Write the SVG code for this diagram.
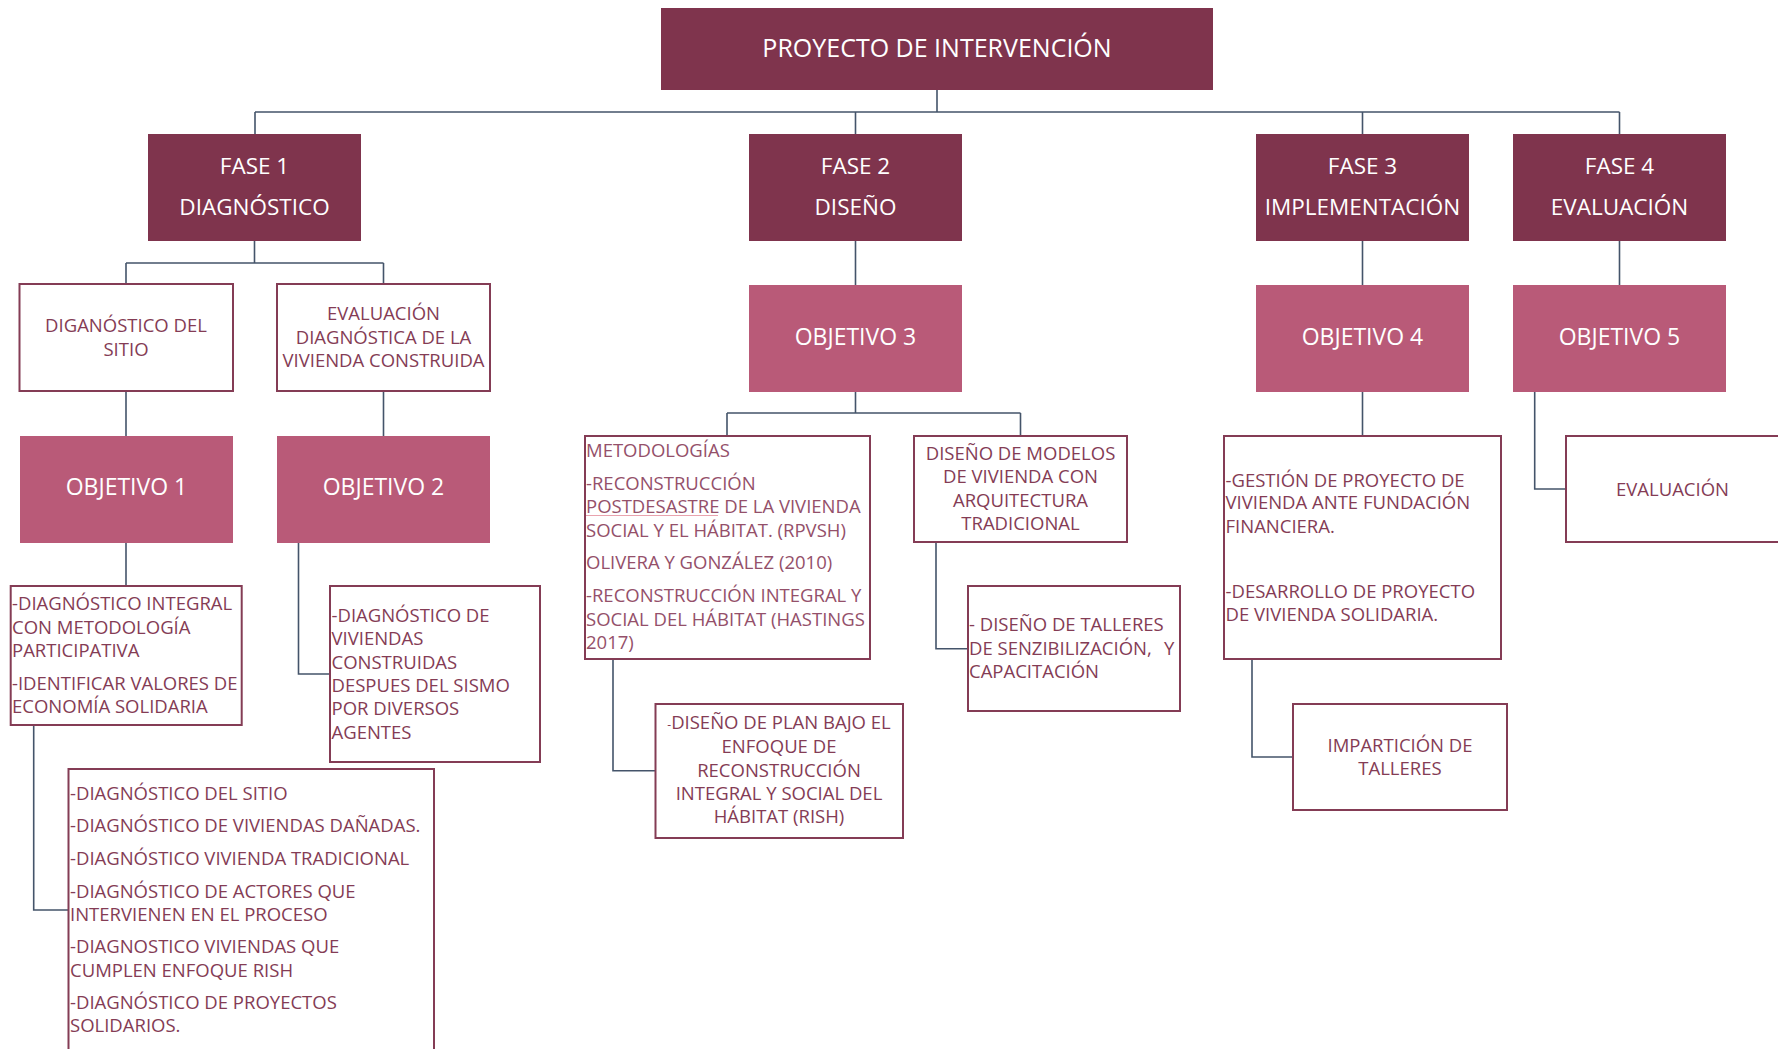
<svg xmlns="http://www.w3.org/2000/svg" width="1778" height="1049" viewBox="0 0 1778 1049">
<style>
text{font-family:"Open Sans","Liberation Sans",sans-serif;}
.dark{fill:#7F344D;}
.pink{fill:#B95A78;}
.box{fill:#FFFFFF;stroke:#843C55;stroke-width:2;}
.wt{fill:#FFFFFF;text-anchor:middle;}
.t1{font-size:25px;}
.tf{font-size:22.5px;}
.to{font-size:23px;}
.st{fill:#843C55;font-size:18.5px;}
.lt{fill:#94506A;}
.mid{text-anchor:middle;}
.conn{fill:none;stroke:#44546A;stroke-width:1.6;}
</style>
<rect width="1778" height="1049" fill="#FFFFFF"/>
<g id="connectors">
<path class="conn" d="M937 90V112M255 112H1619.5M255 112V134M855.5 112V134M1362.5 112V134M1619.5 112V134"/>
<path class="conn" d="M254.5 241V263M126 263H383.5M126 263V284M383.5 263V284"/>
<path class="conn" d="M126 391V436M383.5 391V436"/>
<path class="conn" d="M855.5 241V285M1362.5 241V285M1619.5 241V285"/>
<path class="conn" d="M126 543V586"/>
<path class="conn" d="M298.5 543V674H330"/>
<path class="conn" d="M33.7 725V910H68.5"/>
<path class="conn" d="M855.5 392V413M727 413H1020.5M727 413V436M1020.5 413V436"/>
<path class="conn" d="M613 659V770.7H655.5"/>
<path class="conn" d="M936 542V648.7H968"/>
<path class="conn" d="M1362.5 392V436"/>
<path class="conn" d="M1252 659V757H1293"/>
<path class="conn" d="M1534.7 392V489H1566"/>
</g>
<g id="root">
<rect class="dark" x="661" y="8" width="552" height="82"/>
<text class="wt t1" x="937" y="57">PROYECTO DE INTERVENCIÓN</text>
</g>
<g id="fase1">
<rect class="dark" x="148" y="134" width="213" height="107"/>
<text class="wt tf" x="254.5" y="174">FASE 1</text>
<text class="wt tf" x="254.5" y="214.5">DIAGNÓSTICO</text>
</g>
<g id="fase2">
<rect class="dark" x="749" y="134" width="213" height="107"/>
<text class="wt tf" x="855.5" y="174">FASE 2</text>
<text class="wt tf" x="855.5" y="214.5">DISEÑO</text>
</g>
<g id="fase3">
<rect class="dark" x="1256" y="134" width="213" height="107"/>
<text class="wt tf" x="1362.5" y="174">FASE 3</text>
<text class="wt tf" x="1362.5" y="214.5">IMPLEMENTACIÓN</text>
</g>
<g id="fase4">
<rect class="dark" x="1513" y="134" width="213" height="107"/>
<text class="wt tf" x="1619.5" y="174">FASE 4</text>
<text class="wt tf" x="1619.5" y="214.5">EVALUACIÓN</text>
</g>
<g id="diag-sitio">
<rect class="box" x="19.5" y="284" width="213.5" height="107"/>
<text class="st mid" x="126" y="331.6">DIGANÓSTICO DEL</text>
<text class="st mid" x="126" y="356">SITIO</text>
</g>
<g id="eval-diag">
<rect class="box" x="277" y="284" width="213" height="107"/>
<text class="st mid" x="383.5" y="320">EVALUACIÓN</text>
<text class="st mid" x="383.5" y="344">DIAGNÓSTICA DE LA</text>
<text class="st mid" x="383.5" y="367.3">VIVIENDA CONSTRUIDA</text>
</g>
<g id="obj1">
<rect class="pink" x="20" y="436" width="213" height="107"/>
<text class="wt to" x="126.5" y="495">OBJETIVO 1</text>
</g>
<g id="obj2">
<rect class="pink" x="277" y="436" width="213" height="107"/>
<text class="wt to" x="383.5" y="495">OBJETIVO 2</text>
</g>
<g id="obj3">
<rect class="pink" x="749" y="285" width="213" height="107"/>
<text class="wt to" x="855.5" y="345">OBJETIVO 3</text>
</g>
<g id="obj4">
<rect class="pink" x="1256" y="285" width="213" height="107"/>
<text class="wt to" x="1362.5" y="345">OBJETIVO 4</text>
</g>
<g id="obj5">
<rect class="pink" x="1513" y="285" width="213" height="107"/>
<text class="wt to" x="1619.5" y="345">OBJETIVO 5</text>
</g>
<g id="diag-integral">
<rect class="box" x="10.7" y="586" width="231" height="139"/>
<text class="st" x="12" y="610">-DIAGNÓSTICO INTEGRAL</text>
<text class="st" x="12" y="634">CON METODOLOGÍA</text>
<text class="st" x="12" y="657.2">PARTICIPATIVA</text>
<text class="st" x="12" y="690">-IDENTIFICAR VALORES DE</text>
<text class="st" x="12" y="713">ECONOMÍA SOLIDARIA</text>
</g>
<g id="diag-viviendas">
<rect class="box" x="330" y="586" width="210" height="176"/>
<text class="st" x="331.5" y="622">-DIAGNÓSTICO DE</text>
<text class="st" x="331.5" y="645.2">VIVIENDAS</text>
<text class="st" x="331.5" y="668.5">CONSTRUIDAS</text>
<text class="st" x="331.5" y="691.7">DESPUES DEL SISMO</text>
<text class="st" x="331.5" y="715">POR DIVERSOS</text>
<text class="st" x="331.5" y="738.7">AGENTES</text>
</g>
<g id="diag-lista">
<rect class="box" x="68.5" y="769" width="365.5" height="300"/>
<text class="st" x="70" y="799.6">-DIAGNÓSTICO DEL SITIO</text>
<text class="st" x="70" y="831.7">-DIAGNÓSTICO DE VIVIENDAS DAÑADAS.</text>
<text class="st" x="70" y="864.6">-DIAGNÓSTICO VIVIENDA TRADICIONAL</text>
<text class="st" x="70" y="898">-DIAGNÓSTICO DE ACTORES QUE</text>
<text class="st" x="70" y="920.8">INTERVIENEN EN EL PROCESO</text>
<text class="st" x="70" y="953.3">-DIAGNOSTICO VIVIENDAS QUE</text>
<text class="st" x="70" y="977">CUMPLEN ENFOQUE RISH</text>
<text class="st" x="70" y="1009.4">-DIAGNÓSTICO DE PROYECTOS</text>
<text class="st" x="70" y="1032.3">SOLIDARIOS.</text>
</g>
<g id="metodologias">
<rect class="box" x="585" y="436" width="285" height="223"/>
<text class="st lt" x="586" y="457.3">METODOLOGÍAS</text>
<text class="st lt" x="586" y="490">-RECONSTRUCCIÓN</text>
<text class="st lt" x="586" y="513.3">POSTDESASTRE DE LA VIVIENDA</text>
<line x1="586" y1="515.5" x2="718" y2="515.5" stroke="#E9A3AE" stroke-width="1"/>
<text class="st lt" x="586" y="537.3">SOCIAL Y EL HÁBITAT. (RPVSH)</text>
<text class="st lt" x="586" y="569.3">OLIVERA Y GONZÁLEZ (2010)</text>
<text class="st lt" x="586" y="602.3">-RECONSTRUCCIÓN INTEGRAL Y</text>
<text class="st lt" x="586" y="625.6">SOCIAL DEL HÁBITAT (HASTINGS</text>
<text class="st lt" x="586" y="649">2017)</text>
</g>
<g id="modelos">
<rect class="box" x="914" y="436" width="213" height="106"/>
<text class="st mid" x="1020.5" y="460">DISEÑO DE MODELOS</text>
<text class="st mid" x="1020.5" y="483.3">DE VIVIENDA CON</text>
<text class="st mid" x="1020.5" y="506.6">ARQUITECTURA</text>
<text class="st mid" x="1020.5" y="530">TRADICIONAL</text>
</g>
<g id="talleres">
<rect class="box" x="968" y="586" width="212" height="125"/>
<text class="st" x="969" y="631">- DISEÑO DE TALLERES</text>
<text class="st" x="969" y="655.3">DE SENZIBILIZACIÓN,<tspan x="1164">Y</tspan></text>
<text class="st" x="969" y="677.6">CAPACITACIÓN</text>
</g>
<g id="plan">
<rect class="box" x="655.5" y="704" width="247.5" height="134"/>
<text class="st mid" x="779" y="729"><tspan font-size="12">-</tspan>DISEÑO DE PLAN BAJO EL</text>
<text class="st mid" x="779" y="753.3">ENFOQUE DE</text>
<text class="st mid" x="779" y="776.6">RECONSTRUCCIÓN</text>
<text class="st mid" x="779" y="800">INTEGRAL Y SOCIAL DEL</text>
<text class="st mid" x="779" y="823.3">HÁBITAT (RISH)</text>
</g>
<g id="gestion">
<rect class="box" x="1224" y="436" width="277" height="223"/>
<text class="st" x="1225.5" y="486.6">-GESTIÓN DE PROYECTO DE</text>
<text class="st" x="1225.5" y="509.3">VIVIENDA ANTE FUNDACIÓN</text>
<text class="st" x="1225.5" y="532.6">FINANCIERA.</text>
<text class="st" x="1225.5" y="598.3">-DESARROLLO DE PROYECTO</text>
<text class="st" x="1225.5" y="621">DE VIVIENDA SOLIDARIA.</text>
</g>
<g id="imparticion">
<rect class="box" x="1293" y="704" width="214" height="106"/>
<text class="st mid" x="1400" y="751.6">IMPARTICIÓN DE</text>
<text class="st mid" x="1400" y="775">TALLERES</text>
</g>
<g id="evaluacion">
<rect class="box" x="1566" y="436" width="230" height="106"/>
<text class="st mid" x="1672.5" y="495.6">EVALUACIÓN</text>
</g>
</svg>
